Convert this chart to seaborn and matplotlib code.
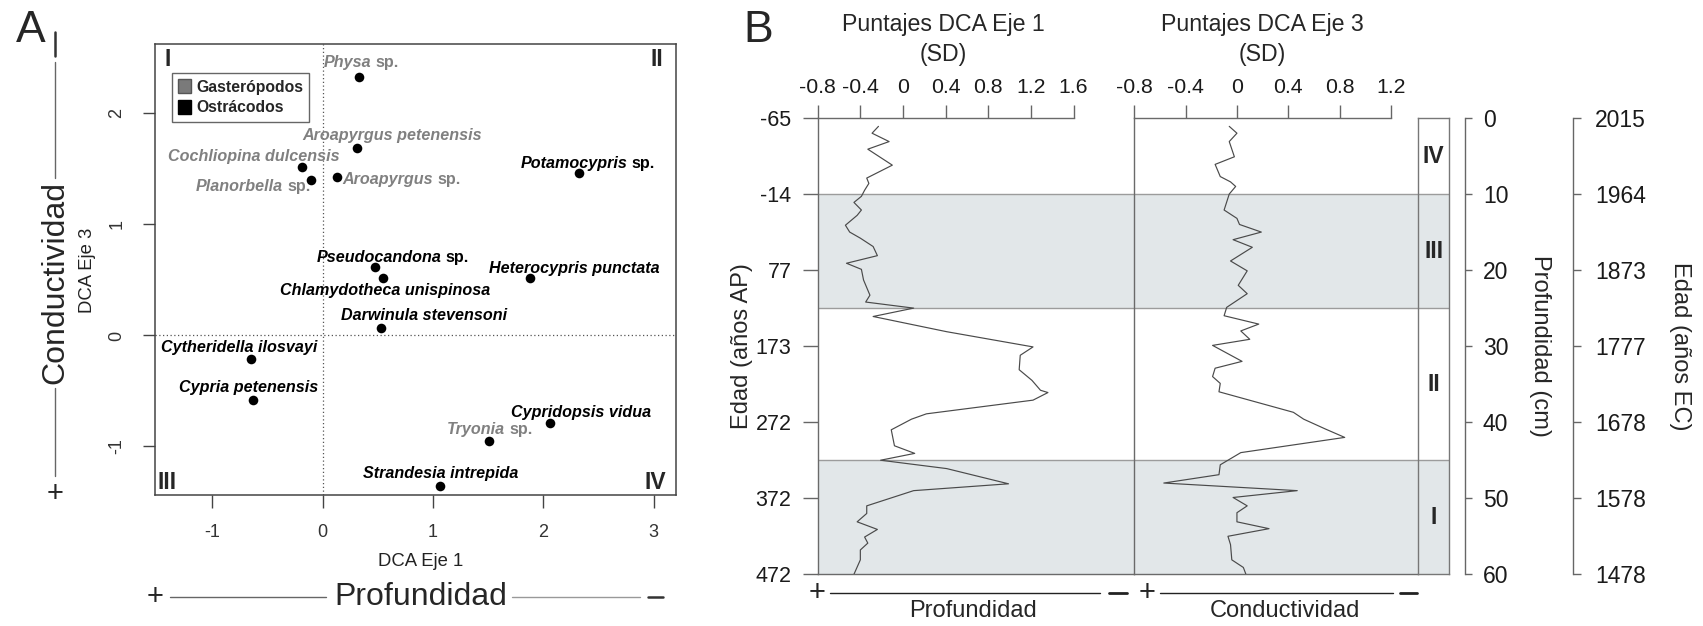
import numpy as np
import pandas as pd
import matplotlib
matplotlib.use("Agg")
import matplotlib.pyplot as plt
import seaborn as sns
from matplotlib.lines import Line2D
from matplotlib.patches import Patch
from matplotlib.transforms import offset_copy

# ---------------- Panel A: DCA species scores ----------------
species = ["Physa", "Aroapyrgus petenensis", "Cochliopina dulcensis", "Planorbella",
           "Aroapyrgus", "Tryonia", "Potamocypris", "Pseudocandona",
           "Chlamydotheca unispinosa", "Heterocypris punctata", "Darwinula stevensoni",
           "Cytheridella ilosvayi", "Cypria petenensis", "Cypridopsis vidua",
           "Strandesia intrepida"]
genus_only = [True, False, False, True, True, True, True, True,
              False, False, False, False, False, False, False]
group = ["Gasterópodos"] * 6 + ["Ostrácodos"] * 9
dca_axis1 = [0.33, 0.31, -0.19, -0.11, 0.125, 1.505, 2.32, 0.47,
             0.55, 1.875, 0.53, -0.65, -0.63, 2.06, 1.065]
dca_axis3 = [2.33, 1.69, 1.52, 1.405, 1.426, -0.948, 1.465, 0.62,
             0.52, 0.52, 0.07, -0.215, -0.58, -0.79, -1.356]

# ---------------- Panel B: down-core DCA sample scores ----------------
eje1_depth = [1.1, 2.0, 3.1, 4.1, 6.2, 7.9, 8.6, 9.5, 10.3, 11.1, 12.1, 12.8, 14.1,
              15.0, 15.8, 16.9, 18.1, 19.1, 19.9, 21.3, 23.3, 24.2, 25.0, 26.1, 28.1,
              30.1, 31.2, 33.1, 34.5, 35.8, 36.1, 37.1, 38.9, 39.6, 41.0, 43.1, 44.1,
              45.0, 46.1, 48.1, 49.0, 51.0, 52.0, 53.1, 54.1, 55.1, 55.9, 56.8, 58.1, 60.0]
eje1_score = [-0.23, -0.29, -0.13, -0.33, -0.10, -0.34, -0.32, -0.36, -0.39, -0.46,
              -0.39, -0.43, -0.54, -0.50, -0.40, -0.28, -0.24, -0.53, -0.39, -0.37,
              -0.31, -0.35, 0.10, -0.28, 0.41, 1.22, 1.10, 1.09, 1.21, 1.29, 1.36,
              1.22, 0.22, 0.08, -0.11, -0.08, 0.11, -0.21, 0.41, 0.99, 0.10, -0.34,
              -0.34, -0.43, -0.24, -0.36, -0.33, -0.40, -0.40, -0.46]
eje3_depth = [1.1, 2.0, 3.1, 5.1, 6.1, 7.7, 8.4, 9.0, 10.0, 12.1, 13.2, 14.0, 15.0,
              16.0, 17.0, 18.8, 20.1, 22.0, 23.1, 24.9, 26.0, 27.1, 28.0, 29.1, 29.9,
              32.0, 32.9, 34.0, 34.9, 36.0, 38.7, 39.6, 40.9, 42.0, 44.0, 45.6, 46.9,
              48.0, 49.0, 49.9, 51.0, 51.9, 53.1, 54.0, 55.0, 56.1, 58.1, 59.1, 60.0]
eje3_score = [-0.06, 0.00, -0.06, -0.02, -0.17, -0.13, -0.05, -0.01, -0.06, -0.10,
              0.00, 0.02, 0.19, -0.03, 0.12, -0.05, 0.08, 0.01, 0.08, -0.08, -0.10,
              0.17, 0.03, 0.10, -0.19, 0.04, -0.17, -0.19, -0.13, -0.14, 0.44, 0.52,
              0.69, 0.84, 0.03, -0.13, -0.14, -0.57, 0.47, -0.03, 0.08, 0.00, 0.00,
              0.25, -0.07, -0.05, -0.04, 0.05, 0.07]

depth_ticks = [0, 10, 20, 30, 40, 50, 60]
age_bp_labels = ["-65", "-14", "77", "173", "272", "372", "472"]
age_ce_labels = ["2015", "1964", "1873", "1777", "1678", "1578", "1478"]
zones = ["IV", "III", "II", "I"]
zone_top = [0, 10, 25, 45]
zone_bottom = [10, 25, 45, 60]
zone_shaded = [False, True, False, True]
eje1_ticks = [-0.8, -0.4, 0, 0.4, 0.8, 1.2, 1.6]
eje3_ticks = [-0.8, -0.4, 0, 0.4, 0.8, 1.2]

# ---------------- figure set-up ----------------
sns.set_style("white")
plt.rcParams["font.family"] = ["Liberation Sans", "DejaVu Sans"]
plt.rcParams["axes.unicode_minus"] = False

W, H = 1703, 626
fig = plt.figure(figsize=(W / 100, H / 100), dpi=100)
fig.patch.set_facecolor("white")


def box(l, t, r, b):
    return [l / W, 1 - b / H, (r - l) / W, (b - t) / H]


def ftext(x, y, s, **kw):
    kw.setdefault("ha", "center")
    kw.setdefault("va", "center")
    return fig.text(x / W, 1 - y / H, s, **kw)


def fline(xs, ys, **kw):
    fig.add_artist(Line2D([x / W for x in xs], [1 - y / H for y in ys],
                          transform=fig.transFigure, **kw))


def fmt(v):
    return "0" if v == 0 else f"{v:.1f}"


SHADE = "#e2e7e9"
BAND = "#9c9c9c"
CURVE = "#4a4a4a"
GREY_TXT = "#808080"

# ---------------- Panel A ----------------
axA = fig.add_axes(box(154.5, 44, 675.5, 495))
dfA = pd.DataFrame({"especie": species, "grupo": group,
                    "eje1": dca_axis1, "eje3": dca_axis3})
sns.scatterplot(data=dfA, x="eje1", y="eje3", color="black", s=48,
                linewidth=0, legend=False, ax=axA, zorder=3)
axA.set_xlim(-1.525, 3.198)
axA.set_ylim(-1.437, 2.626)
axA.axvline(0, color="#555555", lw=0.9, ls=(0, (1, 2)), zorder=1)
axA.axhline(0, color="#555555", lw=0.9, ls=(0, (1, 2)), zorder=1)
axA.set_xticks([-1, 0, 1, 2, 3])
axA.set_yticks([-1, 0, 1, 2])
axA.set_xticklabels(["-1", "0", "1", "2", "3"])
axA.set_yticklabels(["-1", "0", "1", "2"])
for lab in axA.get_yticklabels():
    lab.set_rotation(90)
    lab.set_va("center")
axA.tick_params(axis="both", direction="out", length=9, width=1, color="#444444",
                labelsize=13, labelcolor="#333333", pad=12,
                bottom=True, left=True)
axA.set_xlabel("")
axA.set_ylabel("")
for sp in axA.spines.values():
    sp.set_color("#444444")
    sp.set_linewidth(1.1)
    sp.set_visible(True)

# species labels: (dx, dy) in pixels from the point to the label centre
label_offsets = [(2, -14), (35, -12), (-48, -10), (-57, 7), (65, 2), (1, -11),
                 (9, -9), (18, -9), (2, 13), (45, -9), (43, -12), (-12, -12),
                 (-5, -12), (31, -11), (0, -13)]
FS_SP = 11.6
fig.canvas.draw()
renderer = fig.canvas.get_renderer()
for name, gen, grp, x, y, (dx, dy) in zip(species, genus_only, group,
                                          dca_axis1, dca_axis3, label_offsets):
    col = GREY_TXT if grp == "Gasterópodos" else "black"
    t1 = axA.text(x, y, name, fontsize=FS_SP, fontweight="bold", fontstyle="italic",
                  color=col, ha="left", va="center")
    parts = [t1]
    if gen:
        t2 = axA.text(x, y, "sp.", fontsize=FS_SP, fontweight="bold",
                      color=col, ha="left", va="center")
        parts.append(t2)
    widths = [p.get_window_extent(renderer).width for p in parts]
    gap = FS_SP * 0.278 * 100 / 72 if gen else 0
    total = sum(widths) + gap
    left = dx - total / 2
    for p, w in zip(parts, widths):
        p.set_transform(offset_copy(axA.transData, fig=fig, x=left, y=-dy, units="dots"))
        left += w + gap

axA.legend(handles=[Patch(facecolor="#7a7a7a", edgecolor="#555555"),
                    Patch(facecolor="black", edgecolor="black")],
           labels=["Gasterópodos", "Ostrácodos"], loc="upper left",
           bbox_to_anchor=((171.7 - 154.5) / 521, 1 - (73.2 - 44) / 451),
           frameon=True, fancybox=False, edgecolor="#666666", framealpha=1,
           prop={"weight": "bold", "size": 11.3}, handlelength=0.85,
           handleheight=0.95, handletextpad=0.3, borderpad=0.4,
           labelspacing=0.35, borderaxespad=0)

for s, x, y in [("I", 167.5, 59), ("II", 657, 59), ("III", 167.5, 482.5), ("IV", 655.5, 482.5)]:
    ftext(x, y, s, fontsize=16.5, fontweight="bold")

ftext(88, 270, "DCA Eje 3", fontsize=13.3, rotation=90, color="#222222")
ftext(421, 561, "DCA Eje 1", fontsize=13.3, color="#222222")

# environmental gradients along the ordination axes
ftext(421, 597, "Profundidad", fontsize=23)
ftext(155, 597, "+", fontsize=21)
fline([170, 326], [597, 597], color="#666666", lw=1)
fline([512, 640], [597, 597], color="#999999", lw=1)
fline([648, 663], [597, 597], color="#333333", lw=1.8)
ftext(55, 283, "Conductividad", fontsize=23, rotation=90)
fline([55, 55], [32, 56], color="#333333", lw=1.8)
fline([55, 55], [62, 178], color="#666666", lw=1)
fline([55, 55], [388, 476], color="#666666", lw=1)
ftext(55, 494, "+", fontsize=21)
ftext(31, 30, "A", fontsize=32)

# ---------------- Panel B ----------------
def shade_zones(ax):
    for top, bot, sh in zip(zone_top, zone_bottom, zone_shaded):
        if sh:
            ax.axhspan(top, bot, color=SHADE, lw=0, zorder=0)
    for d in zone_top[1:]:
        ax.axhline(d, color=BAND, lw=1, zorder=1)


L1, R1 = 817.7, 1134.3
L2, R2 = 1134.3, 1418.3
TOP, BOT = 118, 574.3

axB1 = fig.add_axes(box(L1, TOP, R1, BOT))
axB1.set_xlim(-0.8, -0.8 + (R1 - L1) / 106.6)
axB1.set_ylim(60, 0)
shade_zones(axB1)
sns.lineplot(x=eje1_score, y=eje1_depth, sort=False, estimator=None,
             color=CURVE, lw=0.85, ax=axB1, zorder=3)

axB2 = fig.add_axes(box(L2, TOP, R2, BOT))
axB2.set_xlim(-0.8, -0.8 + (R2 - L2) / 128.3)
axB2.set_ylim(60, 0)
shade_zones(axB2)
sns.lineplot(x=eje3_score, y=eje3_depth, sort=False, estimator=None,
             color=CURVE, lw=0.85, ax=axB2, zorder=3)

for ax, ticks in [(axB1, eje1_ticks), (axB2, eje3_ticks)]:
    ax.set_xlabel("")
    ax.set_ylabel("")
    ax.xaxis.tick_top()
    ax.set_xticks(ticks)
    ax.set_xticklabels([fmt(t) for t in ticks])
    ax.tick_params(axis="x", direction="out", length=9.4, width=1, color="#666666",
                   labelsize=15.3, labelcolor="#1a1a1a", pad=6, top=True, bottom=False)
    ax.spines["right"].set_visible(False)
    for k in ["top", "left", "bottom"]:
        ax.spines[k].set_visible(True)
        ax.spines[k].set_color("#6a6a6a")
        ax.spines[k].set_linewidth(1)
    ax.spines["top"].set_bounds(ticks[0], ticks[-1])
    ax.patch.set_alpha(0)

axB1.set_yticks(depth_ticks)
axB1.set_yticklabels(age_bp_labels)
axB1.tick_params(axis="y", direction="out", length=10.8, width=1, color="#666666",
                 labelsize=15.5, labelcolor="#1a1a1a", pad=8, left=True)
axB2.set_yticks([])

ftext(943, 25, "Puntajes DCA Eje 1", fontsize=16.7)
ftext(943, 55, "(SD)", fontsize=16.7)
ftext(1262.6, 25, "Puntajes DCA Eje 3", fontsize=16.7)
ftext(1262.6, 55, "(SD)", fontsize=16.7)
ftext(742, 346, "Edad (años AP)", fontsize=17, rotation=90)
ftext(758, 30, "B", fontsize=32)

# zone column
axZ = fig.add_axes(box(R2, TOP, 1449.3, BOT))
axZ.set_xlim(0, 1)
axZ.set_ylim(60, 0)
shade_zones(axZ)
for z, top, bot in zip(zones, zone_top, zone_bottom):
    axZ.text(0.5, (top + bot) / 2, z, fontsize=16.5, fontweight="bold",
             ha="center", va="center")
axZ.set_xticks([])
axZ.set_yticks([])
for sp in axZ.spines.values():
    sp.set_visible(True)
    sp.set_color("#777777")
    sp.set_linewidth(1)

# depth and calendar age axes
for left, right, labels, length, pad in [(1455, 1465, [str(d) for d in depth_ticks], 4.8, 8),
                                         (1563, 1573.3, age_ce_labels, 6, 9.5)]:
    ax = fig.add_axes(box(left, TOP, right, BOT))
    ax.set_ylim(60, 0)
    ax.set_xticks([])
    ax.patch.set_alpha(0)
    for k in ["top", "left", "bottom"]:
        ax.spines[k].set_visible(False)
    ax.spines["right"].set_visible(True)
    ax.spines["right"].set_color("#666666")
    ax.spines["right"].set_linewidth(1)
    ax.yaxis.tick_right()
    ax.set_yticks(depth_ticks)
    ax.set_yticklabels(labels)
    ax.tick_params(axis="y", direction="out", length=length, width=1, color="#666666",
                   labelsize=16.5, labelcolor="#1a1a1a", pad=pad, right=True, left=False)

ftext(1540, 346, "Profundidad (cm)", fontsize=17, rotation=270)
ftext(1680, 346, "Edad (años EC)", fontsize=17, rotation=270)

# environmental gradients under the score axes
ftext(816.7, 593, "+", fontsize=21)
fline([830, 1100], [593, 593], color="#222222", lw=1)
fline([1109, 1127], [592.5, 592.5], color="#222222", lw=2)
ftext(1146.7, 593, "+", fontsize=21)
fline([1160, 1393], [593, 593], color="#222222", lw=1)
fline([1400, 1417], [592.5, 592.5], color="#222222", lw=2)
ftext(972.7, 611, "Profundidad", fontsize=17)
ftext(1285, 611, "Conductividad", fontsize=17)

fig.savefig("out.png", dpi=100, facecolor="white")
